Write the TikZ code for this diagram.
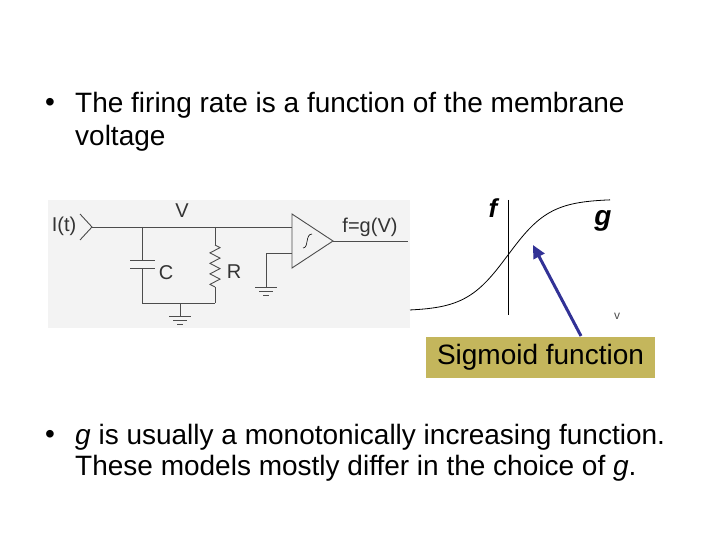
\documentclass[tikz,border=0pt]{standalone}
\usepackage{fontspec}
\setmainfont{Liberation Sans}
\usetikzlibrary{decorations.pathmorphing,arrows.meta}
\definecolor{panel}{RGB}{243,243,243}
\definecolor{boxfill}{RGB}{196,182,92}
\definecolor{arrowblue}{RGB}{50,50,150}
\tikzset{
  wire/.style={draw=black!70, line width=0.9pt},
  big/.style={font=\fontsize{28}{33}\selectfont, inner sep=0pt, anchor=west},
  ckt/.style={font=\fontsize{20}{24}\selectfont, inner sep=0pt, text=black!80},
  gnd/.style={wire}
}
\begin{document}
\begin{tikzpicture}[x=1pt,y=-1pt]
\useasboundingbox (0,0) rectangle (720,540);
% bullets
\node[big] (b1) at (45,105) {•};
\node[big] (t1) at (75,105) {The firing rate is a function of the membrane};
\node[big] (t2) at (75,138) {voltage};
\node[big] (b2) at (45,437) {•};
\node[big] (t3) at (75,437) {\textit{g} is usually a monotonically increasing function.};
\node[big] (t4) at (75,468) {These models mostly differ in the choice of \textit{g}.};
% circuit panel
\fill[panel] (48,200) rectangle (410,328);
\node[ckt] (It) at (64,226) {I(t)};
\draw[wire] (80,214) -- (92,227) -- (80,240);
\coordinate (in) at (92,227);
\coordinate (cT) at (142,227);
\coordinate (rT) at (215,227);
\coordinate (oT) at (292,227);
\draw[wire] (in) -- (oT);
\node[ckt] (V) at (182,211) {V};
% capacitor
\draw[wire] (cT) -- (142,260) (130,260) -- (155,260) (130,268) -- (155,268) (142,268) -- (142,303) -- (215,303);
\node[ckt] (C) at (166,273) {C};
% resistor
\draw[wire] (rT) -- (215,245);
\draw[wire, decorate, decoration={zigzag, segment length=10.5pt, amplitude=5pt}] (215,245) -- (215,287);
\draw[wire] (215,287) -- (215,303);
\node[ckt] (R) at (234,272) {R};
% ground 1
\draw[gnd] (180,303) -- (180,316) (169,316) -- (191,316) (173,320) -- (187,320) (177,324) -- (183,324);
% op amp
\draw[wire] (292,214) -- (333,241) -- (292,268) -- cycle;
\draw[line width=0.6pt] (303,248) .. controls (309,248) and (305,234) .. (312,234);
\draw[wire] (292,253) -- (266,253) -- (266,287);
\draw[gnd] (255,287) -- (277,287) (259,291) -- (273,291) (263,295) -- (269,295);
\draw[wire] (333,241) -- (408,241);
\node[ckt] (fg) at (370,227) {f=g(V)};
% sigmoid
\draw[line width=0.7pt] (508,200) -- (508,315);
\draw[line width=0.8pt, domain=-98:102, samples=80, smooth] plot ({508+\x},{255-56*tanh(\x/42)});
\node[font=\fontsize{26}{29}\selectfont\bfseries\itshape, inner sep=0pt] (f) at (493,208) {f};
\node[font=\fontsize{28}{29}\selectfont\bfseries\itshape, inner sep=0pt] (g) at (603,221) {g};
\node[font=\fontsize{12}{12}\selectfont, inner sep=0pt, text=black!70] (v) at (617,316) {v};
\node[fill=boxfill, minimum width=229pt, minimum height=41pt, inner sep=0pt, font=\fontsize{28}{33}\selectfont] (sf) at (540.5,357.5) {Sigmoid function};
\coordinate (tip) at (533,245);
\draw[arrowblue, line width=3pt, -{Triangle[length=13pt,width=12pt]}] (581,336) -- (tip);
\end{tikzpicture}
\end{document}
